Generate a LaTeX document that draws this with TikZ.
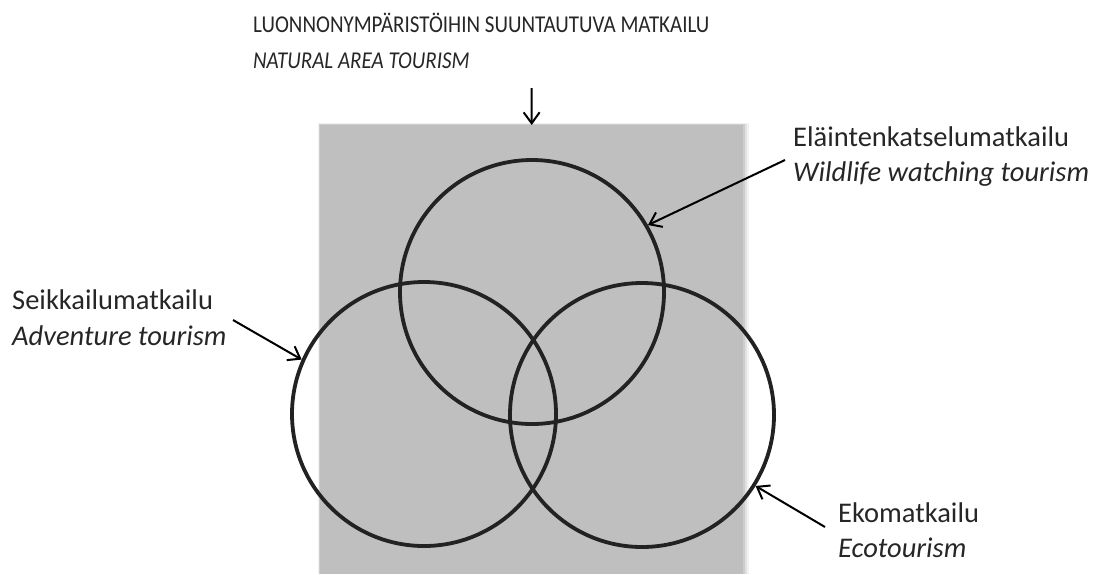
\documentclass[tikz,border=0pt]{standalone}
\usepackage{fontspec}
\setmainfont{Carlito}
\usetikzlibrary{arrows.meta,calc}
\definecolor{areagray}{RGB}{191,191,191}
\definecolor{ink}{RGB}{34,34,34}
\newcommand{\tallline}[1]{\scalebox{1}[1.15]{#1}}
\begin{document}
\begin{tikzpicture}[x=1pt,y=-1pt,
  ring/.style={circle, draw=ink, line width=3.8pt, minimum size=264pt, inner sep=0pt},
  pointer/.style={draw=black, line width=2pt, -{Straight Barb[length=11pt,width=16pt,line width=2pt]}},
  titletext/.style={anchor=base west, font=\fontsize{21}{25}\selectfont, inner sep=0pt, text=black!85},
  labeltext/.style={anchor=base west, font=\fontsize{28.5}{34}\selectfont, inner sep=0pt, text=black!85},
  areabox/.style={fill=areagray, minimum width=423pt, minimum height=449pt, inner sep=0pt, anchor=north west}]
\useasboundingbox (0,0) rectangle (1107,574);
% soft shadow of the area
\foreach \d/\o in {6/0.05,4/0.07,2/0.09}{
  \fill[black, opacity=\o] (320-\d/3,125-\d/3) rectangle (743+\d,574);
}
\node[areabox] (area) at (320,125) {};
% circles
\node[ring] (wild) at (532,292) {};
\node[ring] (adv) at (424,414) {};
\node[ring] (eco) at (642,415) {};
% title
\node[titletext] (t1) at (253,32) {\tallline{LUONNONYMPÄRISTÖIHIN SUUNTAUTUVA MATKAILU}};
\node[titletext] (t2) at (253,68) {\tallline{\itshape NATURAL AREA TOURISM}};
\coordinate (ttail) at (531.5,88);
\draw[pointer] (ttail) -- (area.north);
% wildlife
\node[labeltext] (w1) at (793,146) {Eläintenkatselumatkailu};
\node[labeltext] (w2) at (793,181) {\itshape Wildlife watching tourism};
\coordinate (wtail) at (785,160);
\draw[pointer] (wtail) -- (wild.30);
% adventure
\node[labeltext] (a1) at (12,309) {Seikkailumatkailu};
\node[labeltext] (a2) at (12,345) {\itshape Adventure tourism};
\coordinate (atail) at (233,320);
\draw[pointer] (atail) -- (adv.156);
% eco
\node[labeltext] (e1) at (838,522) {Ekomatkailu};
\node[labeltext] (e2) at (838,557) {\itshape Ecotourism};
\coordinate (etail) at (825,527);
\draw[pointer] (etail) -- (eco.-32);
\end{tikzpicture}
\end{document}
